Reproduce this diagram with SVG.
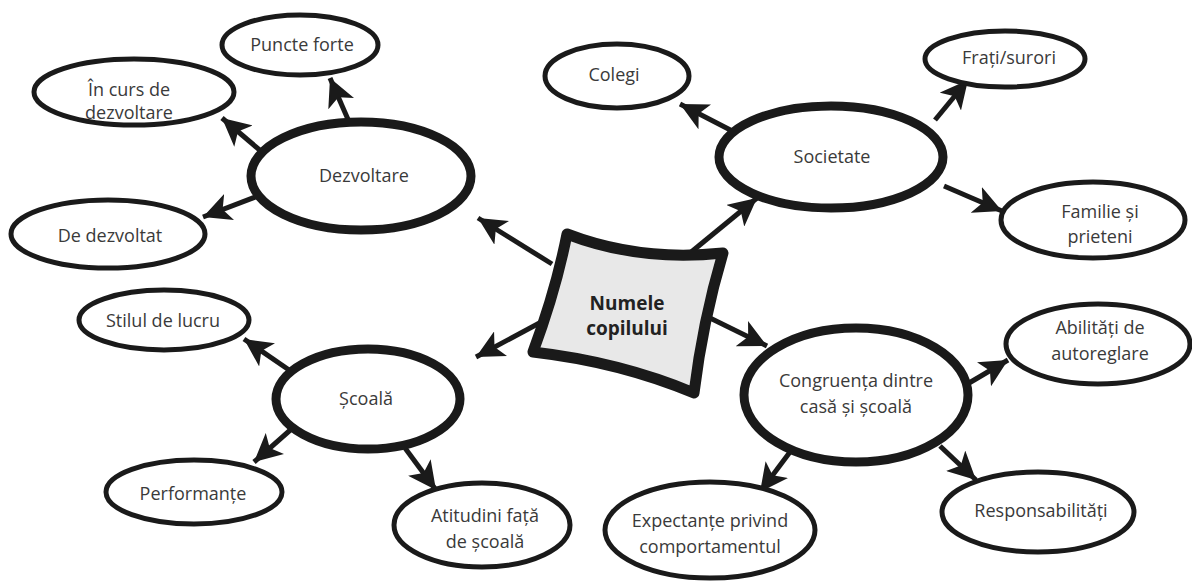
<svg xmlns="http://www.w3.org/2000/svg" width="1192" height="582" viewBox="0 0 1192 582">
<style>
.big{fill:#fff;stroke:#1a1a1a;stroke-width:9}
.small{fill:#fff;stroke:#1a1a1a;stroke-width:5}
.lbl{font-family:"Open Sans","Noto Sans",sans-serif;font-size:18px;fill:#3a3a3a;text-anchor:middle}
.ctr{font-family:"Open Sans","Noto Sans",sans-serif;font-size:19px;font-weight:bold;fill:#222;text-anchor:middle}
.con{stroke:#1a1a1a;stroke-width:5;fill:none;marker-end:url(#ah)}
</style>
<defs>
<marker id="ah" markerUnits="userSpaceOnUse" markerWidth="30" markerHeight="28" refX="28" refY="14" orient="auto">
<path d="M0,0 L28,14 L0,28 L7,14 Z" fill="#1a1a1a"/>
</marker>
</defs>
<rect width="1192" height="582" fill="#fff"/>
<g id="connectors">
<line class="con" x1="552" y1="264" x2="478" y2="218"/>
<line class="con" x1="690" y1="253" x2="757" y2="198"/>
<line class="con" x1="545" y1="320" x2="476" y2="357"/>
<line class="con" x1="710" y1="318" x2="767" y2="346"/>
<line class="con" x1="350" y1="124" x2="330" y2="78"/>
<line class="con" x1="262" y1="152" x2="222" y2="118"/>
<line class="con" x1="258" y1="196" x2="203" y2="217"/>
<line class="con" x1="742" y1="136" x2="680" y2="104"/>
<line class="con" x1="935" y1="120" x2="968" y2="80"/>
<line class="con" x1="944" y1="186" x2="1002" y2="211"/>
<line class="con" x1="292" y1="372" x2="244" y2="339"/>
<line class="con" x1="296" y1="425" x2="254" y2="462"/>
<line class="con" x1="405" y1="448" x2="436" y2="490"/>
<line class="con" x1="964" y1="386" x2="1008" y2="360"/>
<line class="con" x1="790" y1="452" x2="760" y2="492"/>
<line class="con" x1="940" y1="446" x2="976" y2="480"/>
</g>
<g id="center">
<path d="M567,234 Q640,262 723,253 Q703,320 694,393 Q620,362 533,352 Q556,290 567,234 Z" fill="#e8e8e8" stroke="#1a1a1a" stroke-width="11" stroke-linejoin="round"/>
<text class="ctr" x="627" y="310">Numele</text>
<text class="ctr" x="627" y="335">copilului</text>
</g>
<g id="dezvoltare">
<ellipse class="big" cx="361" cy="176" rx="110" ry="54"/>
<text class="lbl" x="364" y="182">Dezvoltare</text>
</g>
<g id="puncte-forte">
<ellipse class="small" cx="300" cy="45" rx="78" ry="30"/>
<text class="lbl" x="302" y="51">Puncte forte</text>
</g>
<g id="in-curs">
<ellipse class="small" cx="134" cy="92" rx="100" ry="33"/>
<text class="lbl" x="129" y="96">În curs de</text>
<text class="lbl" x="129" y="119">dezvoltare</text>
</g>
<g id="de-dezvoltat">
<ellipse class="small" cx="108" cy="234" rx="97" ry="34"/>
<text class="lbl" x="110" y="242">De dezvoltat</text>
</g>
<g id="societate">
<ellipse class="big" cx="831" cy="157" rx="112" ry="51"/>
<text class="lbl" x="832" y="163">Societate</text>
</g>
<g id="colegi">
<ellipse class="small" cx="617" cy="76" rx="72" ry="32"/>
<text class="lbl" x="614" y="81">Colegi</text>
</g>
<g id="frati">
<ellipse class="small" cx="1005" cy="59" rx="80" ry="28"/>
<text class="lbl" x="1009" y="64">Frați/surori</text>
</g>
<g id="familie">
<ellipse class="small" cx="1093" cy="220" rx="92" ry="38"/>
<text class="lbl" x="1100" y="218">Familie și</text>
<text class="lbl" x="1100" y="243">prieteni</text>
</g>
<g id="scoala">
<ellipse class="big" cx="368" cy="399" rx="92" ry="50"/>
<text class="lbl" x="366" y="405">Școală</text>
</g>
<g id="stilul">
<ellipse class="small" cx="164" cy="320" rx="85" ry="30"/>
<text class="lbl" x="163" y="327">Stilul de lucru</text>
</g>
<g id="performante">
<ellipse class="small" cx="194" cy="492" rx="88" ry="32"/>
<text class="lbl" x="193" y="500">Performanțe</text>
</g>
<g id="atitudini">
<ellipse class="small" cx="482" cy="525" rx="88" ry="42"/>
<text class="lbl" x="485" y="522">Atitudini față</text>
<text class="lbl" x="485" y="548">de școală</text>
</g>
<g id="congruenta">
<ellipse class="big" cx="856" cy="395" rx="112" ry="67"/>
<text class="lbl" x="856" y="387">Congruența dintre</text>
<text class="lbl" x="856" y="413">casă și școală</text>
</g>
<g id="abilitati">
<ellipse class="small" cx="1098" cy="344" rx="92" ry="40"/>
<text class="lbl" x="1100" y="334">Abilități de</text>
<text class="lbl" x="1100" y="360">autoreglare</text>
</g>
<g id="expectante">
<ellipse class="small" cx="710" cy="530" rx="105" ry="48"/>
<text class="lbl" x="710" y="527">Expectanțe privind</text>
<text class="lbl" x="710" y="553">comportamentul</text>
</g>
<g id="responsabilitati">
<ellipse class="small" cx="1038" cy="512" rx="96" ry="40"/>
<text class="lbl" x="1041" y="517">Responsabilități</text>
</g>
</svg>
